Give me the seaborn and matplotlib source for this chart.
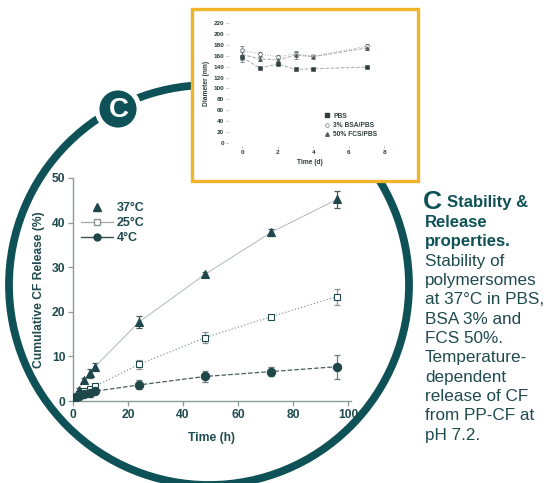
import numpy as np
import pandas as pd
import matplotlib
matplotlib.use("Agg")
import matplotlib.pyplot as plt
from matplotlib.patches import Circle, Rectangle
from matplotlib.lines import Line2D
import seaborn as sns

# ---- release data (cumulative CF release, %) ----
time_h = [0, 0.5, 1, 2, 4, 6, 8, 24, 48, 72, 96]
rel_37 = [0, 0.7, 1.2, 2.5, 4.6, 6.2, 7.7, 17.7, 28.4, 37.8, 45.2]
err_37 = [0, 0.2, 0.3, 0.4, 0.5, 1.0, 0.9, 1.4, 0.5, 0.8, 1.9]
rel_25 = [0, 0.6, 1.0, 1.6, 2.2, 2.6, 3.3, 8.2, 14.2, 18.9, 23.4]
err_25 = [0, 0.2, 0.2, 0.3, 0.4, 0.6, 0.6, 1.0, 1.3, 0.4, 1.8]
rel_4 = [0, 0.4, 0.8, 1.1, 1.5, 1.9, 2.2, 3.6, 5.5, 6.6, 7.7]
err_4 = [0, 0.1, 0.2, 0.2, 0.3, 1.0, 0.5, 1.0, 1.3, 1.1, 2.7]
release_labels = ["37°C", "25°C", "4°C"]
x_ticks_h = [0, 20, 40, 60, 80, 100]
y_ticks_rel = [0, 10, 20, 30, 40, 50]

# ---- stability data (diameter, nm) ----
time_d = [0, 1, 2, 3, 4, 7]
diam_pbs = [157, 137, 145, 135, 136, 139]
err_pbs = [9, 2, 3, 2, 2, 2]
diam_bsa = [170, 163, 158, 163, 159, 177]
err_bsa = [8, 3, 4, 4, 3, 4]
diam_fcs = [162, 154, 152, 161, 158, 174]
err_fcs = [10, 3, 3, 8, 3, 3]
stab_labels = ["PBS", "3% BSA/PBS", "50% FCS/PBS"]
x_ticks_d = [0, 2, 4, 6, 8]
y_ticks_d = list(range(0, 221, 20))

caption_bold = ["Stability &", "Release", "properties."]
caption_body = ["Stability of", "polymersomes", "at 37°C in PBS,", "BSA 3% and",
                "FCS 50%.", "Temperature-", "dependent", "release of CF",
                "from PP-CF at", "pH 7.2."]

sns.set_theme(style="ticks")
plt.rcParams["font.family"] = ["Liberation Sans", "DejaVu Sans"]

TEAL = "#0e5156"
TXT = "#1f4a4e"
MARK = "#1f4749"
SPINE = "#8d9a9a"
YELLOW = "#f1b32a"

W, H = 550, 483
fig = plt.figure(figsize=(W / 100, H / 100), dpi=100)
fig.patch.set_facecolor("white")

# ---- decorative background layer in pixel coordinates ----
bg = fig.add_axes([0, 0, 1, 1], zorder=0)
bg.set_xlim(0, W)
bg.set_ylim(H, 0)
bg.axis("off")
bg.add_patch(Circle((209, 285), 200, fill=False, edgecolor=TEAL, lw=5.6, zorder=1))
bg.add_patch(Rectangle((192, 9), 226, 172, facecolor="white", edgecolor=YELLOW,
                       lw=2.4, zorder=3))
bg.add_patch(Circle((118, 109), 21, facecolor=TEAL, edgecolor="white", lw=3.5, zorder=4))
bg.text(118.5, 110, "C", color="white", fontsize=20, fontweight="bold",
        ha="center", va="center", zorder=5)

# caption block
bg.text(423, 202, "C", color=TEAL, fontsize=19, fontweight="bold", ha="left", va="center")
line_y = 203
for i, s in enumerate(caption_bold):
    bg.text(447 if i == 0 else 425, line_y + i * 19.35, s, color=TEAL, fontsize=12,
            fontweight="bold", ha="left", va="center")
for j, s in enumerate(caption_body):
    bg.text(425, line_y + (len(caption_bold) + j) * 19.35, s, color=TXT, fontsize=12.3,
            ha="left", va="center")

# ---- main release plot ----
ax = fig.add_axes([73 / W, 1 - 401 / H, 277.75 / W, 223 / H], zorder=2)
ax.set_facecolor("none")
rel_df = pd.DataFrame({"t": time_h * 3,
                       "v": rel_37 + rel_25 + rel_4,
                       "e": err_37 + err_25 + err_4,
                       "cond": [release_labels[0]] * len(time_h)
                               + [release_labels[1]] * len(time_h)
                               + [release_labels[2]] * len(time_h)})
styles = {
    "37°C": dict(marker="^", ls="-", lc="#b0b8b8", mfc=MARK, ms=6, lw=0.7, ec="#4a5a5a"),
    "25°C": dict(marker="s", ls=":", lc="#8e9898", mfc="white", ms=5, lw=0.9, ec="#8a9494"),
    "4°C": dict(marker="o", ls="--", lc="#4b5e5e", mfc=MARK, ms=6, lw=0.9, ec="#6d7b7b"),
}
for cond, st in styles.items():
    d = rel_df[rel_df["cond"] == cond]
    ax.errorbar(d["t"], d["v"], yerr=d["e"], fmt="none", ecolor=st["ec"],
                elinewidth=0.9, capsize=2.5, capthick=0.9, zorder=3)
    sns.lineplot(data=d, x="t", y="v", ax=ax, color=st["lc"], linestyle=st["ls"],
                 lw=st["lw"], marker=st["marker"], markersize=st["ms"],
                 markerfacecolor=st["mfc"], markeredgecolor=MARK, markeredgewidth=0.8,
                 zorder=4, legend=False)

ax.set_xlim(0, 101)
ax.set_ylim(0, 50)
ax.set_xticks(x_ticks_h)
ax.set_yticks(y_ticks_rel)
for sp in ["top", "right"]:
    ax.spines[sp].set_visible(False)
for sp in ["left", "bottom"]:
    ax.spines[sp].set_color(SPINE)
    ax.spines[sp].set_linewidth(1.0)
ax.tick_params(axis="both", colors=SPINE, labelcolor=TXT, length=3.5, width=0.9,
               labelsize=8.7, pad=2)
for lab in ax.get_xticklabels() + ax.get_yticklabels():
    lab.set_fontweight("bold")
ax.set_xlabel("Time (h)", fontsize=8.7, fontweight="bold", color=TXT, labelpad=8)
ax.set_ylabel("Cumulative CF Release (%)", fontsize=8.7, fontweight="bold",
              color=TXT, labelpad=5)

handles = [
    Line2D([], [], ls="none", marker="^", color=MARK, markersize=6),
    Line2D([], [], ls="-", color="#a0a8a8", lw=0.9, marker="s", markersize=4.5,
           markerfacecolor="white", markeredgecolor="#8a9494"),
    Line2D([], [], ls="-", color="#3a4c4c", lw=1.0, marker="o", markersize=5,
           markerfacecolor=MARK, markeredgecolor=MARK),
]
leg = ax.legend(handles, release_labels, loc="upper left", bbox_to_anchor=(0.01, 0.915),
                frameon=False, handlelength=2.6, handletextpad=0.3, labelspacing=0.25,
                borderaxespad=0, prop=dict(size=9, weight="bold"))
for t in leg.get_texts():
    t.set_color(TXT)

# ---- stability inset ----
ax2 = fig.add_axes([228 / W, 1 - 146 / H, 164 / W, 126 / H], zorder=5)
ax2.set_facecolor("none")
stab_df = pd.DataFrame({"t": time_d * 3,
                        "v": diam_pbs + diam_bsa + diam_fcs,
                        "e": err_pbs + err_bsa + err_fcs,
                        "med": [stab_labels[0]] * len(time_d)
                               + [stab_labels[1]] * len(time_d)
                               + [stab_labels[2]] * len(time_d)})
inset_styles = {
    "PBS": dict(marker="s", mfc="#2e3d3d", ls="--"),
    "3% BSA/PBS": dict(marker="o", mfc="white", ls=":"),
    "50% FCS/PBS": dict(marker="^", mfc="#4f5e5e", ls="--"),
}
for med, st in inset_styles.items():
    d = stab_df[stab_df["med"] == med]
    ax2.errorbar(d["t"], d["v"], yerr=d["e"], fmt="none", ecolor="#6f7a7a",
                 elinewidth=0.6, capsize=1.2, capthick=0.6, zorder=3)
    sns.lineplot(data=d, x="t", y="v", ax=ax2, color="#a3abab", linestyle=st["ls"],
                 lw=0.7, marker=st["marker"], markersize=2.6,
                 markerfacecolor=st["mfc"], markeredgecolor="#3b4848",
                 markeredgewidth=0.4, zorder=4, legend=False)
ax2.set_xlim(-0.8, 8.43)
ax2.set_ylim(-5, 225)
ax2.set_xticks(x_ticks_d)
ax2.set_yticks(y_ticks_d)
for sp in ax2.spines.values():
    sp.set_visible(False)
ax2.tick_params(axis="both", colors="#9aa3a3", labelcolor="#2f3d3d", length=1.5,
                width=0.5, labelsize=4.6, pad=1.5)
for lab in ax2.get_xticklabels() + ax2.get_yticklabels():
    lab.set_fontweight("bold")
ax2.set_xlabel("Time (d)", fontsize=4.8, fontweight="bold", color="#2f3d3d", labelpad=3)
ax2.set_ylabel("Diameter (nm)", fontsize=4.8, fontweight="bold", color="#2f3d3d",
               labelpad=2)
inset_handles = [
    Line2D([], [], ls="none", marker="s", markersize=2.4, color="#2e3d3d"),
    Line2D([], [], ls="none", marker="o", markersize=2.6, markerfacecolor="white",
           markeredgecolor="#6f7a7a", markeredgewidth=0.5),
    Line2D([], [], ls="none", marker="^", markersize=2.6, color="#4f5e5e"),
]
leg2 = ax2.legend(inset_handles, stab_labels, loc="lower left",
                  bbox_to_anchor=(0.57, 0.04), frameon=False, handlelength=0.8,
                  handletextpad=0.6, labelspacing=0.35, borderaxespad=0,
                  prop=dict(size=4.8, weight="bold"))
for t in leg2.get_texts():
    t.set_color("#2f3d3d")

fig.savefig("out.png", dpi=100, facecolor="white")
